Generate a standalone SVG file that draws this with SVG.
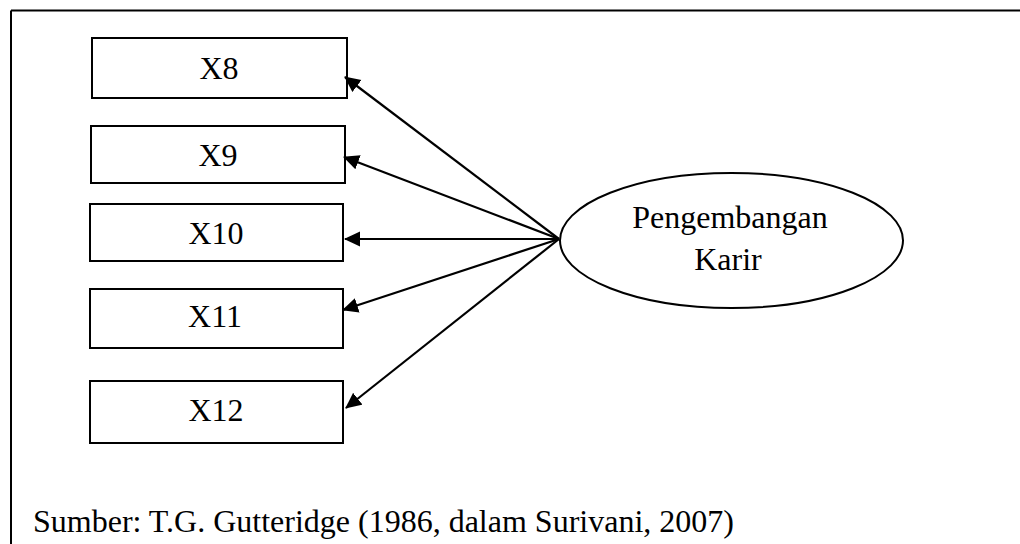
<svg xmlns="http://www.w3.org/2000/svg" width="1020" height="544" viewBox="0 0 1020 544">
<style>
.box{fill:#fff;stroke:#000;stroke-width:2}
.lbl{font-family:"Liberation Serif","Times New Roman",serif;font-size:32px;fill:#000}
.con{stroke:#000;stroke-width:2.2;fill:none;marker-end:url(#ah)}
</style>
<defs>
<marker id="ah" markerUnits="userSpaceOnUse" markerWidth="16" markerHeight="16" viewBox="0 0 16 15" refX="15" refY="7.5" orient="auto">
<path d="M0,0 L16,7.5 L0,15 z" fill="#000"/>
</marker>
</defs>
<rect width="1020" height="544" fill="#fff"/>
<g id="frame">
<path d="M11,10.5 H1020 M11,10.5 V544" stroke="#000" stroke-width="2" fill="none"/>
</g>
<g id="X8"><rect class="box" x="92" y="38" width="255" height="60"/><text class="lbl" x="219" y="79" text-anchor="middle">X8</text></g>
<g id="X9"><rect class="box" x="91" y="126" width="254" height="57"/><text class="lbl" x="218" y="166" text-anchor="middle">X9</text></g>
<g id="X10"><rect class="box" x="90" y="204" width="253" height="57"/><text class="lbl" x="216" y="244" text-anchor="middle">X10</text></g>
<g id="X11"><rect class="box" x="90" y="289" width="253" height="59"/><text class="lbl" x="215" y="327" text-anchor="middle">X11</text></g>
<g id="X12"><rect class="box" x="90" y="381" width="253" height="62"/><text class="lbl" x="216" y="421" text-anchor="middle">X12</text></g>
<g id="pengembangan">
<ellipse cx="731.5" cy="240.5" rx="171.5" ry="67.5" fill="#fff" stroke="#000" stroke-width="2"/>
<text class="lbl" x="730" y="228" text-anchor="middle">Pengembangan</text>
<text class="lbl" x="728" y="270" text-anchor="middle">Karir</text>
</g>
<g id="connectors">
<line class="con" x1="559" y1="239" x2="345" y2="77"/>
<line class="con" x1="559" y1="239" x2="344" y2="157"/>
<line class="con" x1="559" y1="239" x2="345" y2="239"/>
<line class="con" x1="559" y1="239" x2="343" y2="310"/>
<line class="con" x1="559" y1="239" x2="346" y2="408"/>
</g>
<text class="lbl" x="33" y="532">Sumber: T.G. Gutteridge (1986, dalam Surivani, 2007)</text>
</svg>
